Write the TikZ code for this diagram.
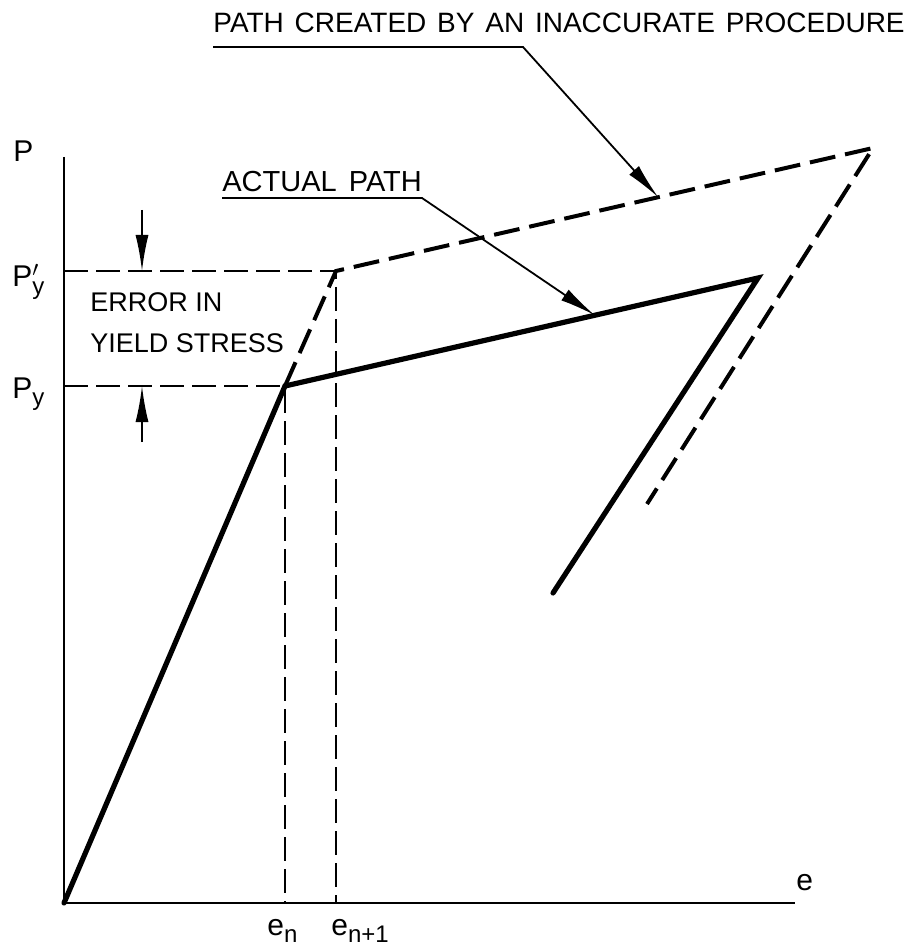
\documentclass[tikz,border=0pt]{standalone}
\usepackage{amsmath}
\usepackage{fontspec}
\setmainfont{Liberation Sans}
\usetikzlibrary{arrows.meta}

\newcommand{\lowsub}[1]{\raisebox{-3.5pt}{\fontsize{12}{12}\selectfont #1}}

\begin{document}
\begin{tikzpicture}[
        x=0.5pt, y=-0.5pt,
        >={Latex[length=18pt,width=6.5pt]},
        axis/.style={line width=1.4pt},
        actual/.style={line width=2.6pt, line cap=round},
        inaccurate/.style={line width=2pt, dash pattern=on 13pt off 5pt},
        guide/.style={line width=0.8pt, dash pattern=on 12pt off 4pt},
        leader/.style={line width=0.9pt},
        lbl/.style={inner sep=0pt, anchor=base west, font=\fontsize{15}{17}\selectfont},
        caption/.style={inner sep=0pt, anchor=base west}
    ]
        \useasboundingbox (0,0) rectangle (915,946);

        % points of the load path
        \coordinate (O) at (64,903);
        \coordinate (ytop) at (64,157);
        \coordinate (xend) at (795,903);
        \coordinate (yield) at (285,386);
        \coordinate (yieldp) at (336,271);
        \coordinate (peak) at (758,278);
        \coordinate (unload) at (553,593);
        \coordinate (ipeak) at (873,148);
        \coordinate (iunload) at (647,504);

        \draw[axis] (ytop) -- (O) -- (xend);

        \draw[guide] (O |- yieldp) -- (yieldp) -- (yieldp |- O);
        \draw[guide] (O |- yield) -- (yield) -- (yield |- O);

        \draw[inaccurate] (yield) -- (yieldp) -- (ipeak) -- (iunload);
        \draw[actual] (O) -- (yield) -- (peak) -- (unload);

        \node[lbl] (P) at (13,162) {P};
        \node[lbl] (Pyp) at (12,287) {P\rlap{$^{\prime}$}\lowsub{y}};
        \node[lbl] (Py) at (12,398) {P\lowsub{y}};
        \node[lbl] (e) at (796,890) {e};
        \node[lbl] (en) at (267,935) {e\lowsub{n}};
        \node[lbl] (enp) at (331,935) {e\lowsub{n+1}};

        % error in yield stress
        \coordinate (errA) at (142,210);
        \coordinate (errB) at (142,442);
        \draw[leader, ->] (errA) -- (errA |- yieldp);
        \draw[leader, ->] (errB) -- (errB |- yield);
        \node[caption, font=\fontsize{13.5}{16}\selectfont] (err) at (90,312) {ERROR IN};
        \node[caption, font=\fontsize{13.5}{16}\selectfont] (ys) at (90,352) {YIELD STRESS};

        % callouts
        \node[caption, font={\fontsize{14.5}{17}\selectfont\spaceskip=6pt\relax}] (act) at (222,192) {ACTUAL PATH};
        \coordinate (actbend) at (422,198);
        \path (yield) -- (peak) coordinate[pos=0.655] (acthit);
        \draw[leader, ->] (act.west |- actbend) -- (actbend) -- (acthit);

        \node[caption, font={\fontsize{14}{16}\selectfont\spaceskip=5.4pt\relax}] (proc) at (213,33) {PATH CREATED BY AN INACCURATE PROCEDURE};
        \coordinate (procbend) at (523,47);
        \path (yieldp) -- (ipeak) coordinate[pos=0.6] (prochit);
        \draw[leader, ->] (proc.west |- procbend) -- (procbend) -- (prochit);
    \end{tikzpicture}
\end{document}
